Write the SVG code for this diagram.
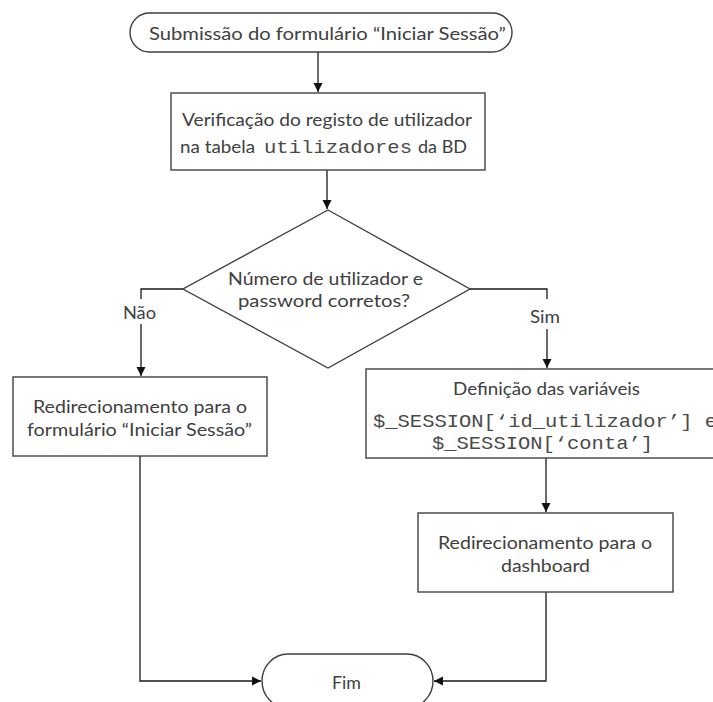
<svg xmlns="http://www.w3.org/2000/svg" width="713" height="702" viewBox="0 0 713 702">
  <style>
    .shape { fill: #ffffff; stroke: #404040; stroke-width: 1.4; }
    .conn { fill: none; stroke: #1a1a1a; stroke-width: 1.3; }
    .t { font-family: Lato, "Open Sans", "Liberation Sans", sans-serif; font-size: 18px; fill: #404040; }
    .m { font-family: "Liberation Mono", "DejaVu Sans Mono", monospace; font-size: 18px; fill: #4a4a4a; }
    .lbl-bg { fill: #ffffff; stroke: none; }
  </style>
  <defs>
    <marker id="arrow" markerUnits="userSpaceOnUse" markerWidth="9" markerHeight="10" refX="9" refY="5" orient="auto">
      <path d="M0,0.5 L9,5 L0,9.5 z" fill="#111111"/>
    </marker>
  </defs>

  <rect width="713" height="702" fill="#ffffff"/>

  <!-- connectors -->
  <g id="connectors">
    <path class="conn" d="M318,52 V92" marker-end="url(#arrow)"/>
    <path class="conn" d="M327,170 V209" marker-end="url(#arrow)"/>
    <path class="conn" d="M183,289 H141 V376" marker-end="url(#arrow)"/>
    <path class="conn" d="M470,289 H547 V368" marker-end="url(#arrow)"/>
    <path class="conn" d="M546,458 V512" marker-end="url(#arrow)"/>
    <path class="conn" d="M140,456 V681 H261" marker-end="url(#arrow)"/>
    <path class="conn" d="M546,592 V681 H434" marker-end="url(#arrow)"/>
  </g>

  <!-- branch labels -->
  <g id="label-nao">
    <rect class="lbl-bg" x="120" y="299" width="40" height="25"/>
    <text class="t" x="123" y="319" textLength="33" lengthAdjust="spacingAndGlyphs">Não</text>
  </g>
  <g id="label-sim">
    <rect class="lbl-bg" x="527" y="299" width="38" height="30"/>
    <text class="t" x="530" y="323" textLength="30" lengthAdjust="spacingAndGlyphs">Sim</text>
  </g>

  <!-- start terminator -->
  <g id="start">
    <rect class="shape" x="130" y="13" width="382" height="39" rx="19.5" ry="19.5"/>
    <text class="t" x="149" y="40" textLength="357" lengthAdjust="spacingAndGlyphs">Submissão do formulário “Iniciar Sessão”</text>
  </g>

  <!-- lookup in the users table -->
  <g id="verify">
    <rect class="shape" x="171" y="93" width="314" height="77"/>
    <text class="t" x="182" y="126" textLength="290" lengthAdjust="spacingAndGlyphs">Verificação do registo de utilizador</text>
    <text class="t" x="180" y="153" textLength="75" lengthAdjust="spacingAndGlyphs">na tabela</text>
    <text class="m" x="264" y="153" textLength="148" lengthAdjust="spacingAndGlyphs">utilizadores</text>
    <text class="t" x="418" y="153" textLength="49" lengthAdjust="spacingAndGlyphs">da BD</text>
  </g>

  <!-- decision -->
  <g id="decision">
    <polygon class="shape" points="328,210 470,289 328,368 183,289"/>
    <text class="t" x="228" y="285" textLength="195" lengthAdjust="spacingAndGlyphs">Número de utilizador e</text>
    <text class="t" x="238" y="307" textLength="172" lengthAdjust="spacingAndGlyphs">password corretos?</text>
  </g>

  <!-- failure branch -->
  <g id="redirect-login">
    <rect class="shape" x="13" y="377" width="254" height="79"/>
    <text class="t" x="33" y="413" textLength="214" lengthAdjust="spacingAndGlyphs">Redirecionamento para o</text>
    <text class="t" x="27" y="436" textLength="225" lengthAdjust="spacingAndGlyphs">formulário “Iniciar Sessão”</text>
  </g>

  <!-- session variables (box runs past the right edge of the page) -->
  <g id="set-session">
    <rect class="shape" x="366" y="369" width="362" height="89"/>
    <text class="t" x="453" y="395" textLength="187" lengthAdjust="spacingAndGlyphs">Definição das variáveis</text>
    <text class="m" x="373" y="427" textLength="344" lengthAdjust="spacingAndGlyphs">$_SESSION[‘id_utilizador’] e</text>
    <text class="m" x="432" y="449" textLength="221" lengthAdjust="spacingAndGlyphs">$_SESSION[‘conta’]</text>
  </g>

  <!-- dashboard redirect -->
  <g id="redirect-dashboard">
    <rect class="shape" x="418" y="513" width="255" height="79"/>
    <text class="t" x="438" y="549" textLength="214" lengthAdjust="spacingAndGlyphs">Redirecionamento para o</text>
    <text class="t" x="501" y="572" textLength="89" lengthAdjust="spacingAndGlyphs">dashboard</text>
  </g>

  <!-- end terminator -->
  <g id="end">
    <rect class="shape" x="262" y="654" width="171" height="54" rx="26" ry="27"/>
    <text class="t" x="332" y="689" textLength="29" lengthAdjust="spacingAndGlyphs">Fim</text>
  </g>
</svg>
